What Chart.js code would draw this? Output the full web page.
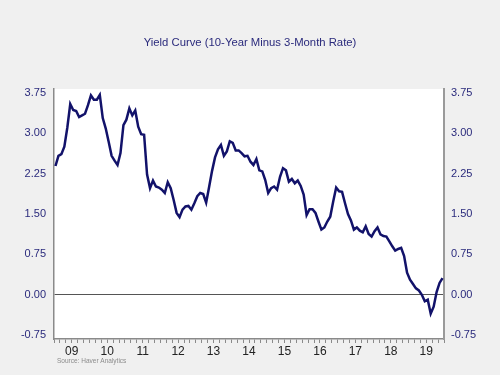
<!DOCTYPE html>
<html>
<head>
<meta charset="utf-8">
<script src="https://cdn.jsdelivr.net/npm/chart.js@4.4.1/dist/chart.umd.min.js"></script>
<style>
  html, body { margin: 0; padding: 0; background: #f0f0f0; }
  #wrap { width: 500px; height: 375px; position: relative; }
</style>
</head>
<body>
<div id="wrap"><canvas id="chart" width="500" height="375"></canvas></div>
<script>
// 10-year minus 3-month spread, monthly averages (percentage points)
const y2009 = [2.39, 2.58, 2.61, 2.75, 3.10, 3.54, 3.43, 3.41, 3.30, 3.33, 3.36, 3.52];
const y2010 = [3.70, 3.62, 3.62, 3.71, 3.28, 3.09, 2.84, 2.58, 2.49, 2.41, 2.63, 3.15];
const y2011 = [3.25, 3.46, 3.33, 3.42, 3.12, 2.98, 2.97, 2.23, 1.98, 2.12, 2.01, 1.99];
const y2012 = [1.95, 1.89, 2.09, 1.98, 1.76, 1.52, 1.44, 1.58, 1.64, 1.65, 1.58, 1.70];
const y2013 = [1.83, 1.89, 1.87, 1.71, 2.00, 2.30, 2.55, 2.70, 2.78, 2.58, 2.66, 2.85];
const y2014 = [2.82, 2.68, 2.68, 2.63, 2.57, 2.58, 2.47, 2.41, 2.52, 2.31, 2.29, 2.13];
const y2015 = [1.89, 1.98, 2.01, 1.95, 2.19, 2.35, 2.31, 2.10, 2.15, 2.07, 2.12, 2.02];
const y2016 = [1.86, 1.48, 1.59, 1.59, 1.52, 1.36, 1.21, 1.25, 1.36, 1.45, 1.73, 1.99];
const y2017 = [1.92, 1.91, 1.70, 1.50, 1.38, 1.21, 1.25, 1.19, 1.16, 1.27, 1.13, 1.08];
const y2018 = [1.18, 1.25, 1.12, 1.09, 1.08, 0.99, 0.90, 0.82, 0.85, 0.87, 0.72, 0.41];
const y2019 = [0.28, 0.20, 0.12, 0.08, 0.00, -0.12, -0.09, -0.35, -0.22, 0.05, 0.22, 0.31];

const yearLabels = ['09', '10', '11', '12', '13', '14', '15', '16', '17', '18', '19'];
const yTicks = [-0.75, 0.00, 0.75, 1.50, 2.25, 3.00, 3.75];

const spread = [].concat(y2009, y2010, y2011, y2012, y2013, y2014, y2015, y2016, y2017, y2018, y2019);
const points = spread.map((v, i) => ({ x: i, y: v }));

const NAVY = '#12126a';
const LABEL_NAVY = '#2a2a7c';
const AXIS_GRAY = '#8a8a8a';

const plotBg = {
  id: 'plotBg',
  beforeDraw(chart) {
    const { ctx, chartArea: a } = chart;
    ctx.save();
    ctx.fillStyle = '#f0f0f0';
    ctx.fillRect(0, 0, chart.width, chart.height);
    ctx.fillStyle = '#ffffff';
    ctx.fillRect(a.left, a.top, a.right - a.left, a.bottom - a.top);
    ctx.restore();
  },
  afterDraw(chart) {
    const { ctx } = chart;
    ctx.save();
    ctx.fillStyle = '#8c8c8c';
    ctx.font = '6.5px "Liberation Sans", Arial, sans-serif';
    ctx.textBaseline = 'middle';
    ctx.fillText('Source: Haver Analytics', 57, 361);
    ctx.restore();
  }
};

// tick marks every two months along the date axis
const dateTicks = [];
for (let k = 0; k <= 66; k++) dateTicks.push(-0.5 + 2 * k);

new Chart(document.getElementById('chart'), {
  type: 'line',
  data: {
    datasets: [{
      data: points,
      borderColor: NAVY,
      borderWidth: 2.5,
      pointRadius: 0,
      tension: 0,
      fill: false,
    }],
  },
  options: {
    responsive: false,
    animation: false,
    layout: { padding: 0 },
    plugins: {
      legend: { display: false },
      tooltip: { enabled: false },
      title: {
        display: true,
        text: 'Yield Curve (10-Year Minus 3-Month Rate)',
        color: LABEL_NAVY,
        font: { family: '"Liberation Sans", Arial, sans-serif', size: 11.3, weight: 'normal' },
        padding: { top: 36.5, bottom: 38.9 },
      },
    },
    scales: {
      x: {
        type: 'linear',
        min: -0.5,
        max: 131.5,
        afterBuildTicks: scale => { scale.ticks = dateTicks.map(v => ({ value: v })); },
        afterFit: scale => { scale.height = 36; },
        ticks: {
          autoSkip: false,
          maxRotation: 0,
          color: '#222',
          padding: 1,
          font: { family: '"Liberation Sans", Arial, sans-serif', size: 12 },
          callback: value => {
            const k = (value - 5.5) / 12;
            return Number.isInteger(k) && yearLabels[k] ? yearLabels[k] : '';
          },
        },
        grid: { drawOnChartArea: false, color: AXIS_GRAY, tickLength: 4 },
        border: { color: AXIS_GRAY, width: 1.5 },
      },
      y: {
        position: 'left',
        min: -0.82,
        max: 3.82,
        afterBuildTicks: scale => { scale.ticks = yTicks.map(v => ({ value: v })); },
        afterFit: scale => { scale.width = 54; },
        ticks: {
          color: LABEL_NAVY,
          padding: 8,
          font: { family: '"Liberation Sans", Arial, sans-serif', size: 11 },
          callback: value => value.toFixed(2),
        },
        grid: {
          drawTicks: false,
          color: ctx => (ctx.tick && ctx.tick.value === 0 ? '#555555' : 'rgba(0,0,0,0)'),
          lineWidth: 1,
        },
        border: { color: AXIS_GRAY, width: 1.5 },
      },
      y2: {
        position: 'right',
        min: -0.82,
        max: 3.82,
        afterBuildTicks: scale => { scale.ticks = yTicks.map(v => ({ value: v })); },
        afterFit: scale => { scale.width = 56; },
        ticks: {
          color: LABEL_NAVY,
          padding: 7,
          font: { family: '"Liberation Sans", Arial, sans-serif', size: 11 },
          callback: value => value.toFixed(2),
        },
        grid: { display: false, drawTicks: false },
        border: { color: '#9a9a9a', width: 2 },
      },
    },
  },
  plugins: [plotBg],
});
</script>
</body>
</html>
